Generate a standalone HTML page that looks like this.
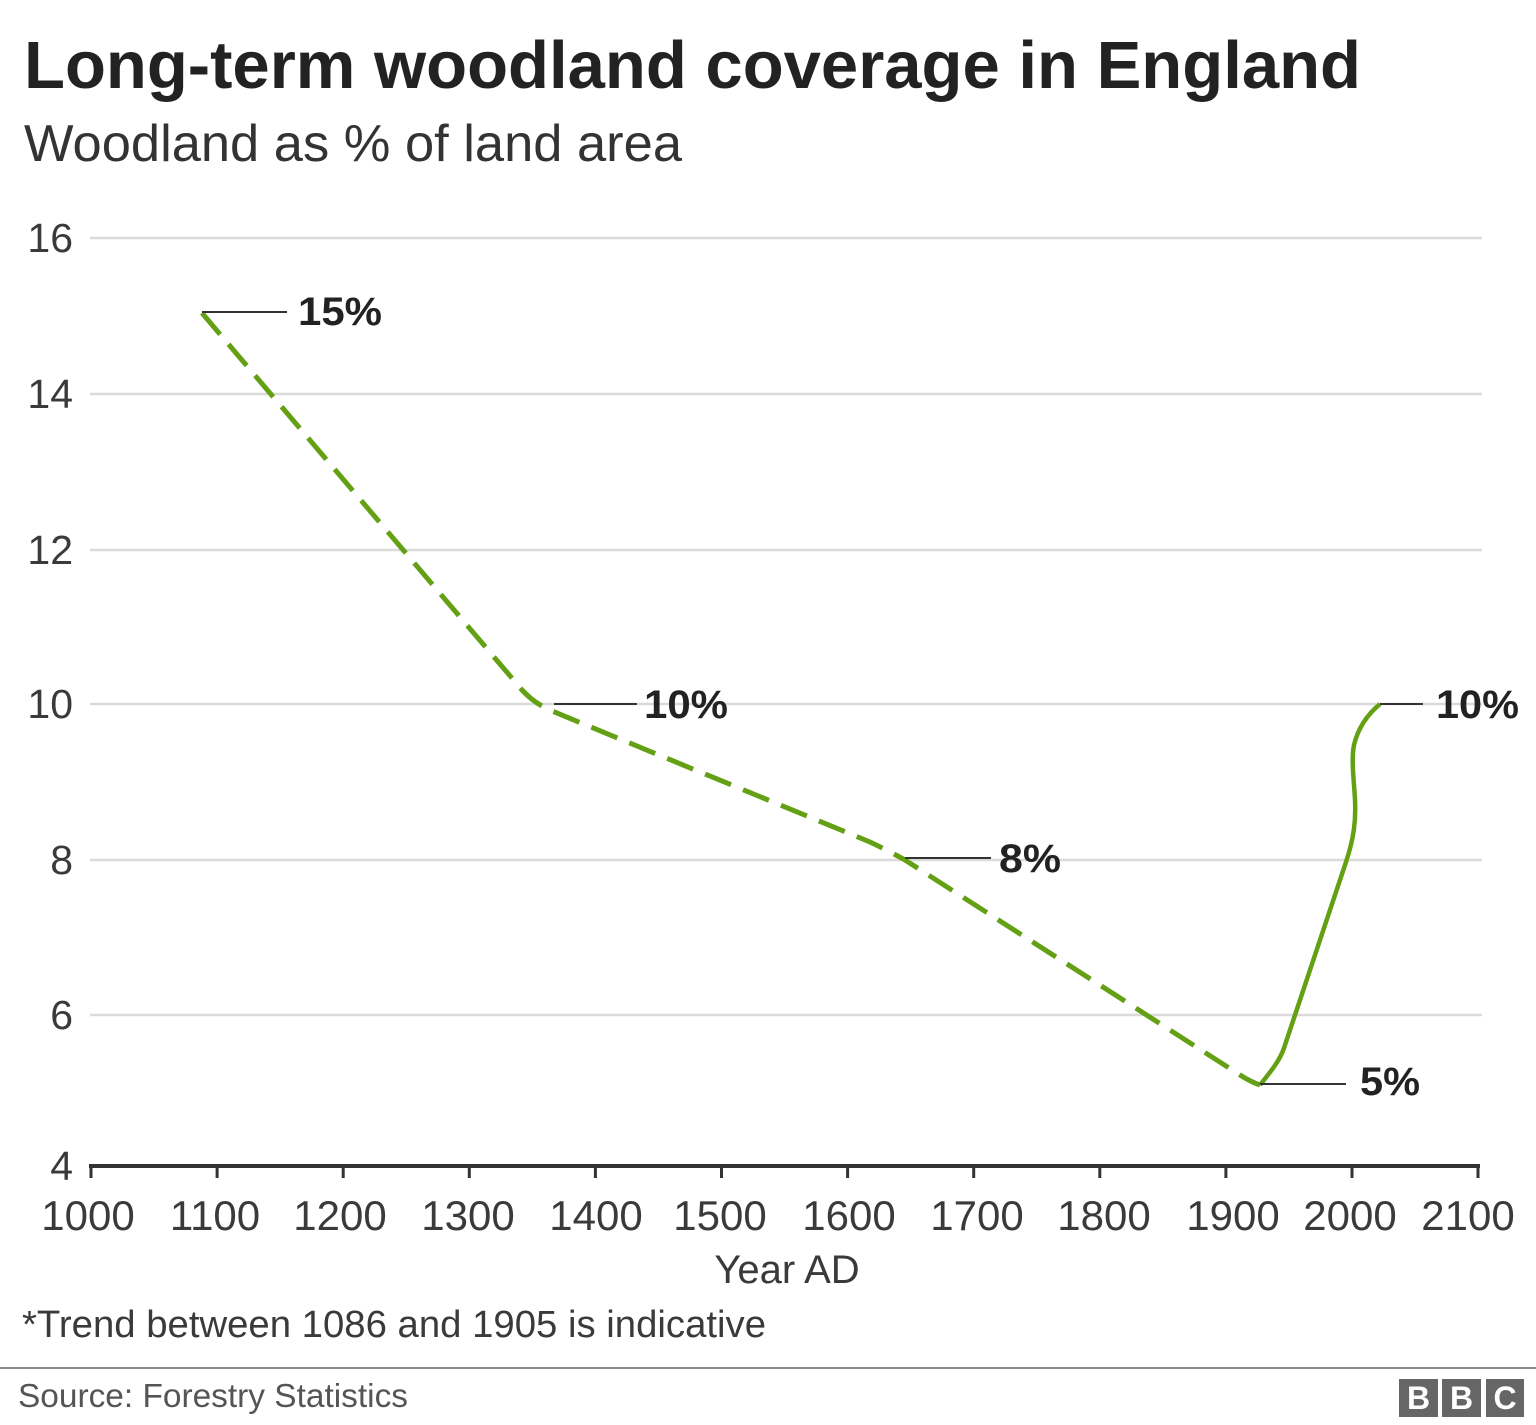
<!DOCTYPE html>
<html><head><meta charset="utf-8"><style>
html,body{margin:0;padding:0;background:#fff;}
svg{display:block;}
text{font-family:"Liberation Sans",Arial,Helvetica,sans-serif;}
</style></head><body>
<svg width="1536" height="1425" viewBox="0 0 1536 1425" xmlns="http://www.w3.org/2000/svg">
<rect width="1536" height="1425" fill="#fff"/>
<text x="24" y="88" font-size="67" font-weight="bold" fill="#222" textLength="1337" lengthAdjust="spacingAndGlyphs">Long-term woodland coverage in England</text>
<text x="24" y="161" font-size="52" fill="#333" textLength="658" lengthAdjust="spacingAndGlyphs">Woodland as % of land area</text>

<g stroke="#dadada" stroke-width="2.5">
<line x1="90" y1="238" x2="1482" y2="238"/>
<line x1="90" y1="394" x2="1482" y2="394"/>
<line x1="90" y1="550" x2="1482" y2="550"/>
<line x1="90" y1="704" x2="1482" y2="704"/>
<line x1="90" y1="860" x2="1482" y2="860"/>
<line x1="90" y1="1015" x2="1482" y2="1015"/>
</g>

<g font-size="41" fill="#3a3a3a" text-anchor="end">
<text x="73" y="252">16</text>
<text x="73" y="408">14</text>
<text x="73" y="564">12</text>
<text x="73" y="718">10</text>
<text x="73" y="874">8</text>
<text x="73" y="1029">6</text>
<text x="73" y="1180">4</text>
</g>

<line x1="89" y1="1166" x2="1480" y2="1166" stroke="#333" stroke-width="4"/>
<g stroke="#333" stroke-width="3">
<line x1="91" y1="1166" x2="91" y2="1178"/>
<line x1="217.1" y1="1166" x2="217.1" y2="1178"/>
<line x1="343.2" y1="1166" x2="343.2" y2="1178"/>
<line x1="469.3" y1="1166" x2="469.3" y2="1178"/>
<line x1="595.4" y1="1166" x2="595.4" y2="1178"/>
<line x1="721.5" y1="1166" x2="721.5" y2="1178"/>
<line x1="847.6" y1="1166" x2="847.6" y2="1178"/>
<line x1="973.7" y1="1166" x2="973.7" y2="1178"/>
<line x1="1099.8" y1="1166" x2="1099.8" y2="1178"/>
<line x1="1225.9" y1="1166" x2="1225.9" y2="1178"/>
<line x1="1352" y1="1166" x2="1352" y2="1178"/>
<line x1="1478" y1="1166" x2="1478" y2="1178"/>
</g>
<g font-size="42" fill="#3a3a3a" text-anchor="middle">
<text x="88" y="1230">1000</text>
<text x="215" y="1230">1100</text>
<text x="340" y="1230">1200</text>
<text x="468" y="1230">1300</text>
<text x="596" y="1230">1400</text>
<text x="720" y="1230">1500</text>
<text x="849" y="1230">1600</text>
<text x="977" y="1230">1700</text>
<text x="1104" y="1230">1800</text>
<text x="1233" y="1230">1900</text>
<text x="1350" y="1230">2000</text>
<text x="1468" y="1230">2100</text>
</g>
<text x="787" y="1283" font-size="40" fill="#3a3a3a" text-anchor="middle">Year AD</text>

<path d="M202,313 L522,690 Q535,704 552,711 L870,842 Q889,851 905,860 L1240,1075 Q1251,1082 1260,1085" fill="none" stroke="#64a014" stroke-width="5" stroke-dasharray="28 13"/>
<path d="M1260,1085 C1272,1070 1280,1060 1284,1048 L1346,862 C1354,838 1356,820 1355,800 C1354,780 1351,760 1354,745 C1358,728 1368,714 1380,704" fill="none" stroke="#64a014" stroke-width="4.5"/>

<g stroke="#333" stroke-width="2">
<line x1="202" y1="312" x2="287" y2="312"/>
<line x1="554" y1="704" x2="637" y2="704"/>
<line x1="905" y1="858" x2="991" y2="858"/>
<line x1="1260" y1="1084" x2="1346" y2="1084"/>
<line x1="1380" y1="704" x2="1423" y2="704"/>
</g>
<g font-size="40" font-weight="bold" fill="#222">
<text x="298" y="325" textLength="84" lengthAdjust="spacingAndGlyphs">15%</text>
<text x="644" y="718" textLength="84" lengthAdjust="spacingAndGlyphs">10%</text>
<text x="999" y="872" textLength="62" lengthAdjust="spacingAndGlyphs">8%</text>
<text x="1360" y="1095" textLength="60" lengthAdjust="spacingAndGlyphs">5%</text>
<text x="1436" y="718" textLength="83" lengthAdjust="spacingAndGlyphs">10%</text>
</g>

<text x="22" y="1337" font-size="38" fill="#3a3a3a" textLength="744" lengthAdjust="spacingAndGlyphs">*Trend between 1086 and 1905 is indicative</text>
<line x1="0" y1="1368" x2="1536" y2="1368" stroke="#8a8a8a" stroke-width="2"/>
<text x="18" y="1407" font-size="33" fill="#555" textLength="390" lengthAdjust="spacingAndGlyphs">Source: Forestry Statistics</text>

<g fill="#666">
<rect x="1399" y="1379" width="39" height="38"/>
<rect x="1442" y="1379" width="39" height="38"/>
<rect x="1486" y="1379" width="38" height="38"/>
</g>
<g font-size="32" font-weight="bold" fill="#fff" text-anchor="middle">
<text x="1418.5" y="1409">B</text>
<text x="1461.5" y="1409">B</text>
<text x="1505" y="1409">C</text>
</g>
</svg>
</body></html>
